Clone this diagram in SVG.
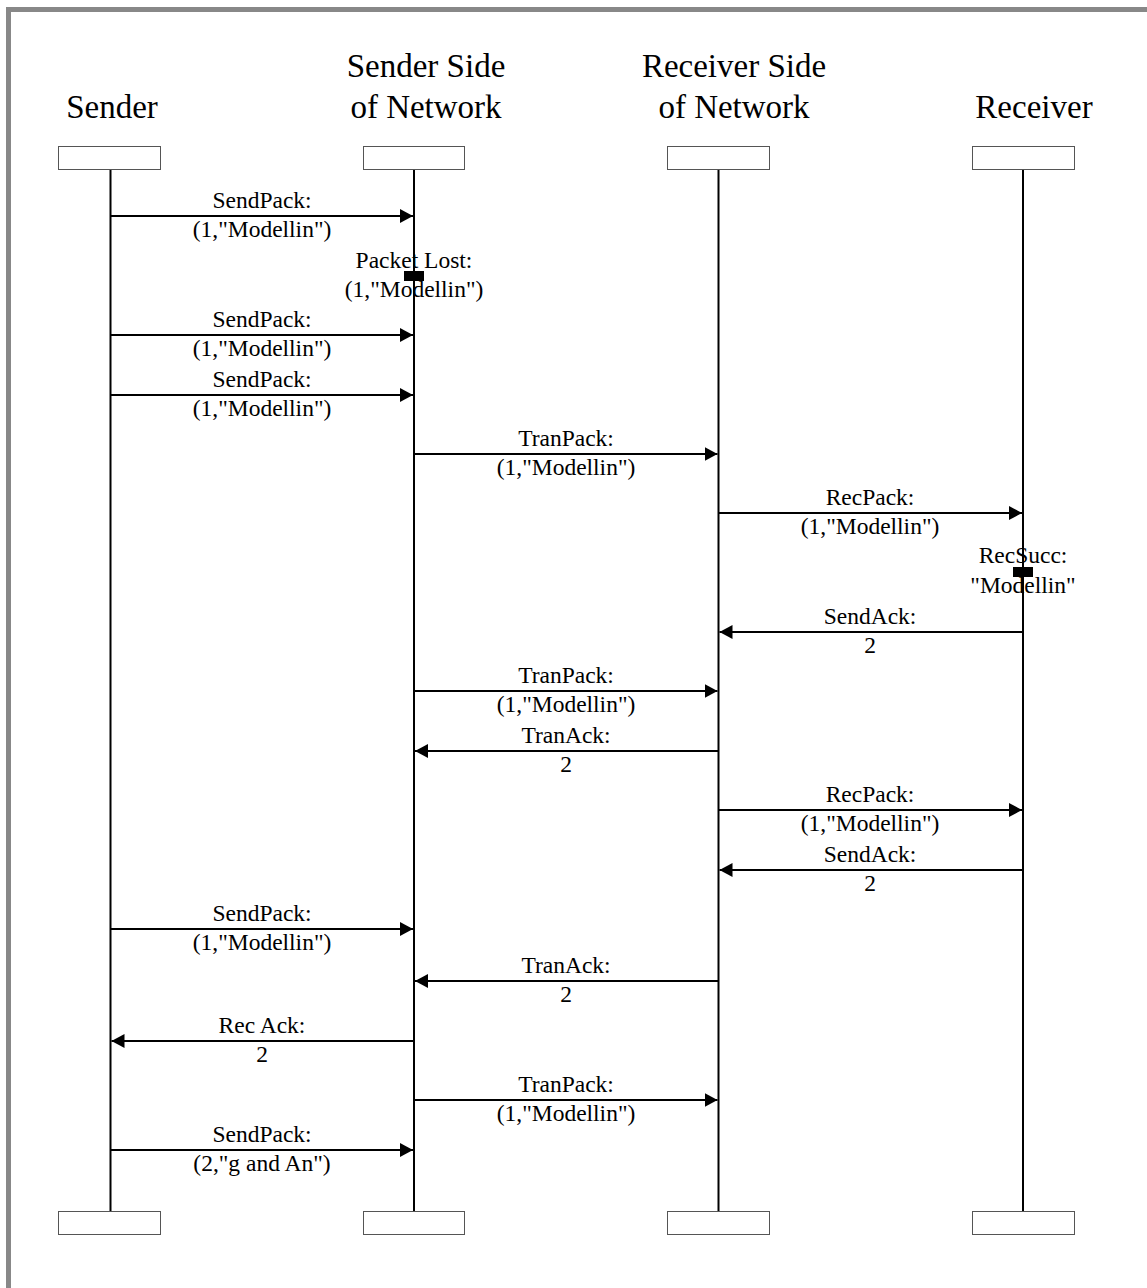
<svg xmlns="http://www.w3.org/2000/svg" width="1147" height="1288" viewBox="0 0 1147 1288">
<defs>
<marker id="ah" markerWidth="15" markerHeight="15" refX="13" refY="7" orient="auto" markerUnits="userSpaceOnUse">
<path d="M0,0 L13,7 L0,14 Z" fill="#000"/>
</marker>
<style>
.hdr{font-family:"Liberation Serif","Times New Roman",serif;font-size:33px;fill:#000;text-anchor:middle}
.lbl{font-family:"Liberation Serif","Times New Roman",serif;font-size:23.5px;fill:#000;text-anchor:middle}
.box{fill:#fff;stroke:#555;stroke-width:1}
.life{stroke:#000;stroke-width:2;fill:none}
.msg{stroke:#000;stroke-width:2;fill:none;marker-end:url(#ah)}
.mark{fill:#000}
</style>
</defs>
<rect width="1147" height="1288" fill="#fff"/>
<path d="M8.5 1288 V9.5 H1147" fill="none" stroke="#888" stroke-width="5"/>

<g id="sender">
<text class="hdr" x="112" y="118">Sender</text>
<line class="life" x1="110.5" y1="169" x2="110.5" y2="1211"/>
<rect class="box" x="58.5" y="146.5" width="102" height="23"/>
<rect class="box" x="58.5" y="1211.5" width="102" height="23"/>
</g>
<g id="sender-side">
<text class="hdr" x="426" y="77">Sender Side</text>
<text class="hdr" x="426" y="118">of Network</text>
<line class="life" x1="414" y1="169" x2="414" y2="1211"/>
<rect class="box" x="363.5" y="146.5" width="101" height="23"/>
<rect class="box" x="363.5" y="1211.5" width="101" height="23"/>
</g>
<g id="receiver-side">
<text class="hdr" x="734" y="77">Receiver Side</text>
<text class="hdr" x="734" y="118">of Network</text>
<line class="life" x1="718.5" y1="169" x2="718.5" y2="1211"/>
<rect class="box" x="667.5" y="146.5" width="102" height="23"/>
<rect class="box" x="667.5" y="1211.5" width="102" height="23"/>
</g>
<g id="receiver">
<text class="hdr" x="1034" y="118">Receiver</text>
<line class="life" x1="1023" y1="169" x2="1023" y2="1211"/>
<rect class="box" x="972.5" y="146.5" width="102" height="23"/>
<rect class="box" x="972.5" y="1211.5" width="102" height="23"/>
</g>

<g id="connectors">
<line class="msg" x1="110.5" y1="216" x2="413" y2="216"/>
<line class="msg" x1="110.5" y1="335" x2="413" y2="335"/>
<line class="msg" x1="110.5" y1="395" x2="413" y2="395"/>
<line class="msg" x1="414" y1="454" x2="717.5" y2="454"/>
<line class="msg" x1="718.5" y1="513" x2="1022" y2="513"/>
<line class="msg" x1="1023" y1="632" x2="719.5" y2="632"/>
<line class="msg" x1="414" y1="691" x2="717.5" y2="691"/>
<line class="msg" x1="718.5" y1="751" x2="415" y2="751"/>
<line class="msg" x1="718.5" y1="810" x2="1022" y2="810"/>
<line class="msg" x1="1023" y1="870" x2="719.5" y2="870"/>
<line class="msg" x1="110.5" y1="929" x2="413" y2="929"/>
<line class="msg" x1="718.5" y1="981" x2="415" y2="981"/>
<line class="msg" x1="414" y1="1041" x2="111.5" y2="1041"/>
<line class="msg" x1="414" y1="1100" x2="717.5" y2="1100"/>
<line class="msg" x1="110.5" y1="1150" x2="413" y2="1150"/>
</g>

<g id="labels">
<text class="lbl" x="262" y="208">SendPack:</text>
<text class="lbl" x="262" y="237">(1,"Modellin")</text>

<text class="lbl" x="414" y="268">Packet Lost:</text>
<text class="lbl" x="414" y="297">(1,"Modellin")</text>

<text class="lbl" x="262" y="327">SendPack:</text>
<text class="lbl" x="262" y="356">(1,"Modellin")</text>

<text class="lbl" x="262" y="387">SendPack:</text>
<text class="lbl" x="262" y="416">(1,"Modellin")</text>

<text class="lbl" x="566" y="446">TranPack:</text>
<text class="lbl" x="566" y="475">(1,"Modellin")</text>

<text class="lbl" x="870" y="505">RecPack:</text>
<text class="lbl" x="870" y="534">(1,"Modellin")</text>

<text class="lbl" x="1023" y="563">RecSucc:</text>
<text class="lbl" x="1023" y="593">"Modellin"</text>

<text class="lbl" x="870" y="624">SendAck:</text>
<text class="lbl" x="870" y="653">2</text>

<text class="lbl" x="566" y="683">TranPack:</text>
<text class="lbl" x="566" y="712">(1,"Modellin")</text>

<text class="lbl" x="566" y="743">TranAck:</text>
<text class="lbl" x="566" y="772">2</text>

<text class="lbl" x="870" y="802">RecPack:</text>
<text class="lbl" x="870" y="831">(1,"Modellin")</text>

<text class="lbl" x="870" y="862">SendAck:</text>
<text class="lbl" x="870" y="891">2</text>

<text class="lbl" x="262" y="921">SendPack:</text>
<text class="lbl" x="262" y="950">(1,"Modellin")</text>

<text class="lbl" x="566" y="973">TranAck:</text>
<text class="lbl" x="566" y="1002">2</text>

<text class="lbl" x="262" y="1033">Rec Ack:</text>
<text class="lbl" x="262" y="1062">2</text>

<text class="lbl" x="566" y="1092">TranPack:</text>
<text class="lbl" x="566" y="1121">(1,"Modellin")</text>

<text class="lbl" x="262" y="1142">SendPack:</text>
<text class="lbl" x="262" y="1171">(2,"g and An")</text>
</g>

<g id="markers">
<rect class="mark" x="404" y="271" width="20" height="10"/>
<rect class="mark" x="1013" y="567" width="20" height="10"/>
</g>
</svg>
